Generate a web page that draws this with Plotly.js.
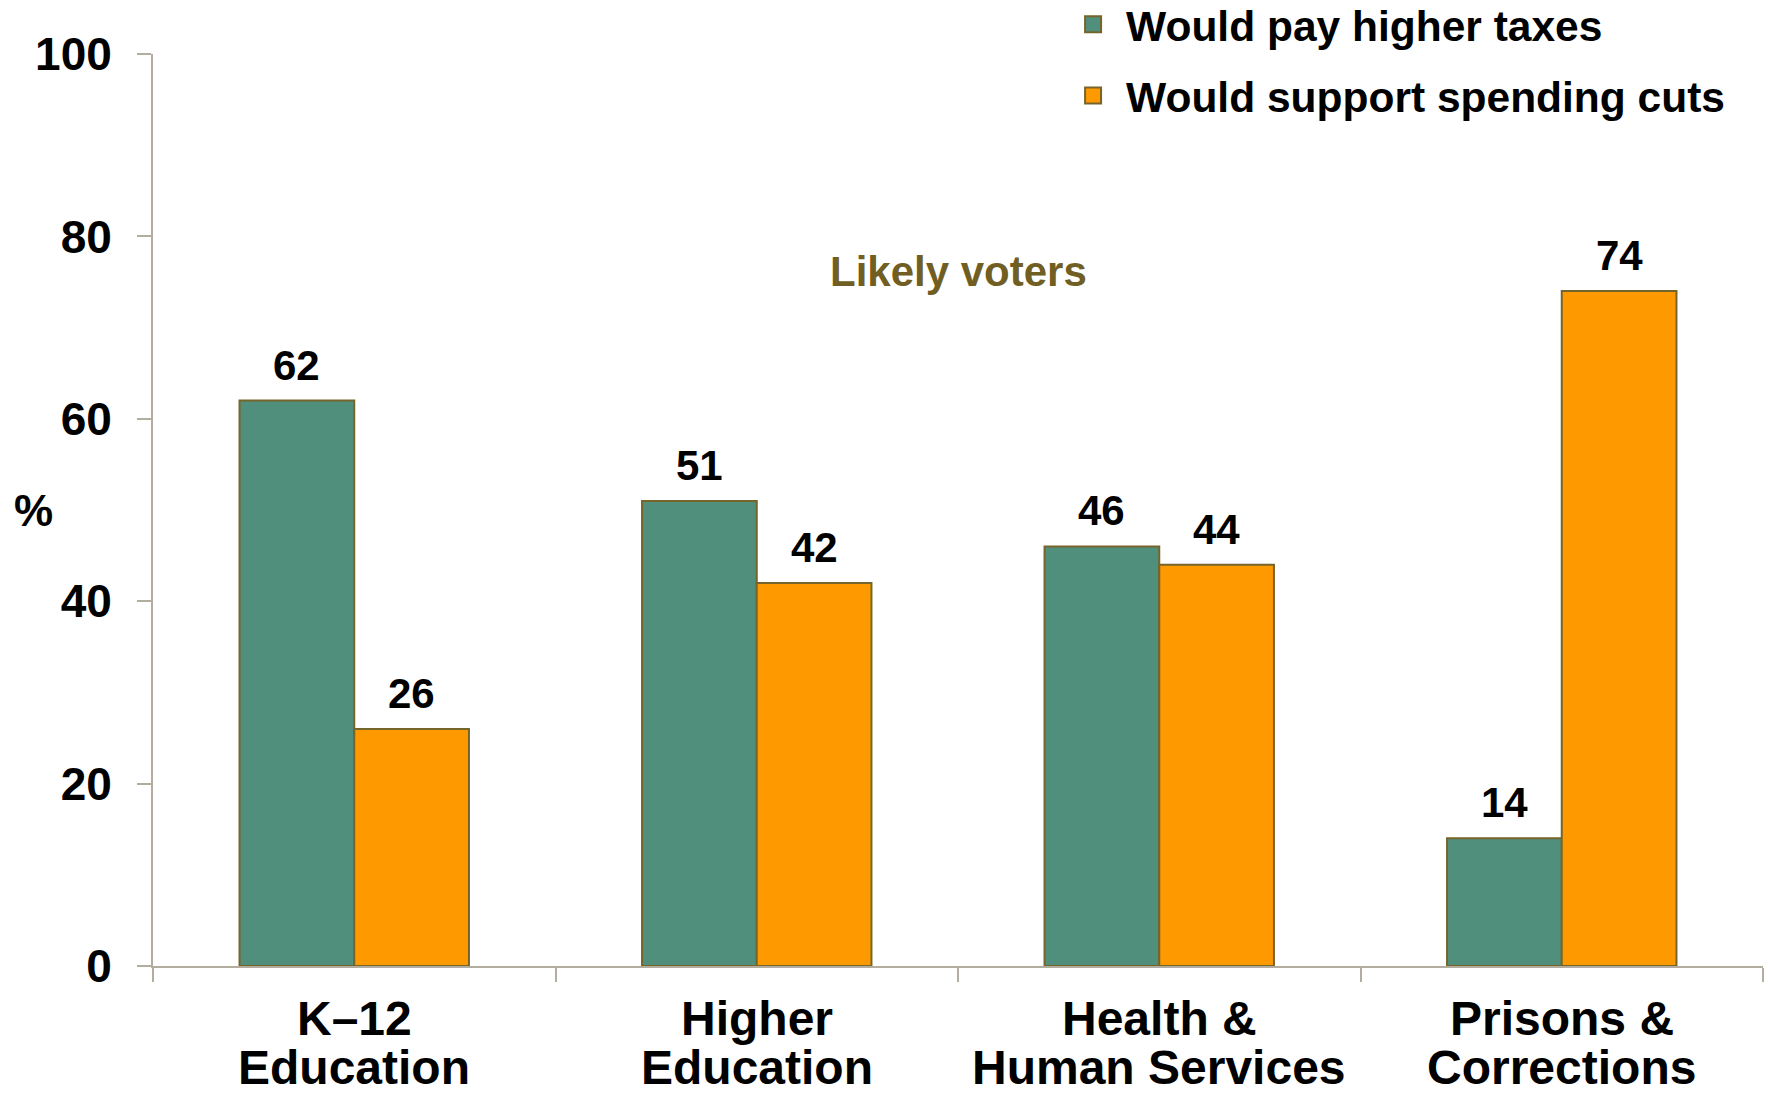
<!DOCTYPE html>
<html>
<head>
<meta charset="utf-8">
<script src="https://cdn.plot.ly/plotly-3.0.1.min.js"></script>
<style>html,body{margin:0;padding:0;background:#fff;}#chart{width:1768px;height:1096px;}</style>
</head>
<body>
<div id="chart"></div>
<script>
const categories = ["K–12<br>Education", "Higher<br>Education", "Health &<br>Human Services", "Prisons &<br>Corrections"];
const seriesNames = ["Would pay higher taxes", "Would support spending cuts"];
const payHigherTaxes = [62, 51, 46, 14];
const supportSpendingCuts = [26, 42, 44, 74];
const yTickVals = [0, 20, 40, 60, 80, 100];
const subtitleText = "Likely voters";
const yLabelText = "%";

const FONT = "Liberation Sans, Arial, Helvetica, sans-serif";
const GREEN = "#518f7d";
const ORANGE = "#ff9900";
const EDGE = "#76652a";
const AXIS = "#b3ad9f";
const BARGAP = 0.43;

const series = [payHigherTaxes, supportSpendingCuts];
const colors = [GREEN, ORANGE];

const traces = [];
series.forEach((vals, k) => {
  traces.push({
    type: "bar", name: seriesNames[k], x: categories, y: vals,
    marker: {color: colors[k], line: {color: EDGE, width: 2}},
    showlegend: false, cliponaxis: false
  });
});
// legend entries (square swatches), no visible data of their own
series.forEach((vals, k) => {
  traces.push({
    type: "scatter", mode: "markers", name: seriesNames[k], x: [categories[0]], y: [null],
    marker: {symbol: "square", size: 16, color: colors[k], line: {color: EDGE, width: 2}},
    legendgroup: "g" + k, showlegend: true, hoverinfo: "skip"
  });
});

// value labels placed over each grouped bar via the category axis
const barW = (1 - BARGAP) / series.length;
const valueAnnotations = [];
series.forEach((vals, k) => {
  vals.forEach((v, i) => {
    valueAnnotations.push({
      xref: "x", yref: "y", x: i - (1 - BARGAP) / 2 + barW * (k + 0.5), y: v,
      text: String(v), showarrow: false, xanchor: "center", yanchor: "bottom", yshift: 10,
      font: {family: FONT, size: 42, color: "#000", weight: "bold"}
    });
  });
});

// category labels: two tight lines each, on the category axis
const categoryAnnotations = [];
categories.forEach((c, i) => {
  c.split("<br>").forEach((line, j) => {
    categoryAnnotations.push({
      xref: "x", yref: "paper", x: i, y: [-0.0576, -0.1113][j],
      text: line, showarrow: false, xanchor: "center", yanchor: "middle",
      font: {family: FONT, size: 48, color: "#000", weight: "bold"}
    });
  });
});

const layout = {
  width: 1768, height: 1096,
  margin: {l: 153, r: 5, t: 54, b: 130, autoexpand: false},
  paper_bgcolor: "#fff", plot_bgcolor: "#fff",
  font: {family: FONT, color: "#000", weight: "bold"},
  barmode: "group", bargap: BARGAP, bargroupgap: 0,
  showlegend: true,
  legend: {
    x: 0.5634, y: 1.0701, xanchor: "left", yanchor: "top",
    traceorder: "grouped", tracegroupgap: 13, itemwidth: 56,
    font: {family: FONT, size: 42.5, color: "#000", weight: "bold"},
    bgcolor: "rgba(0,0,0,0)"
  },
  xaxis: {
    type: "category",
    showline: true, linecolor: AXIS, linewidth: 2,
    ticks: "outside", tickson: "boundaries", ticklen: 14, tickcolor: AXIS, tickwidth: 2,
    showticklabels: false,
    showgrid: false, zeroline: false, fixedrange: true
  },
  yaxis: {
    range: [0, 100], tickvals: yTickVals, ticktext: yTickVals.map(String),
    showline: true, linecolor: AXIS, linewidth: 2,
    ticks: "outside", ticklen: 14, tickcolor: AXIS, tickwidth: 2,
    ticklabelstandoff: 16,
    tickfont: {family: FONT, size: 46, color: "#000", weight: "bold"},
    showgrid: false, zeroline: false, fixedrange: true
  },
  annotations: [
    {xref: "paper", yref: "y", x: 0.5, y: 76.2, text: subtitleText, showarrow: false,
     xanchor: "center", yanchor: "middle",
     font: {family: FONT, size: 42, color: "#715e22", weight: "bold"}},
    {xref: "paper", yref: "y", x: -0.074, y: 50, text: yLabelText, showarrow: false,
     xanchor: "center", yanchor: "middle",
     font: {family: FONT, size: 44, color: "#000", weight: "bold"}}
  ].concat(valueAnnotations, categoryAnnotations)
};

Plotly.newPlot("chart", traces, layout, {displayModeBar: false, staticPlot: true});
</script>
</body>
</html>
